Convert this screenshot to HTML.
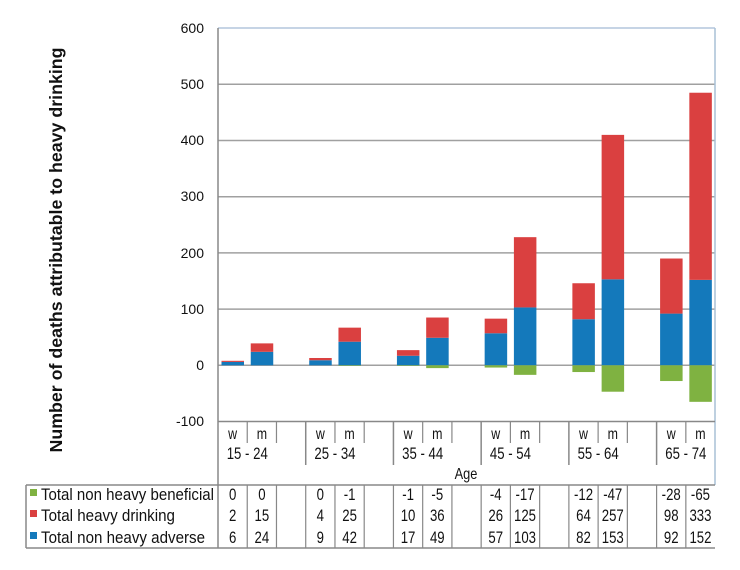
<!DOCTYPE html>
<html><head><meta charset="utf-8"><style>
body{margin:0;background:#fff;width:740px;height:570px;overflow:hidden}
svg{display:block}
text{font-family:"Liberation Sans",sans-serif;fill:#111}
</style></head><body>
<svg width="740" height="570" viewBox="0 0 740 570" xmlns="http://www.w3.org/2000/svg">
<g stroke="#a0a0a0" stroke-width="1.5">
<line x1="218" y1="84.3" x2="715" y2="84.3"/>
<line x1="218" y1="140.5" x2="715" y2="140.5"/>
<line x1="218" y1="196.7" x2="715" y2="196.7"/>
<line x1="218" y1="252.9" x2="715" y2="252.9"/>
<line x1="218" y1="309.1" x2="715" y2="309.1"/>
<line x1="218" y1="365.3" x2="715" y2="365.3"/>
</g>
<line x1="218" y1="28" x2="715" y2="28" stroke="#8eaacb" stroke-width="1"/>
<line x1="715" y1="28" x2="715" y2="485" stroke="#a9c0d6" stroke-width="1.5"/>
<line x1="218" y1="28" x2="218" y2="548" stroke="#888" stroke-width="1.5"/>
<line x1="218" y1="421.5" x2="715" y2="421.5" stroke="#888" stroke-width="1.5"/>
<g font-size="14" text-anchor="end">
<text x="204" y="33">600</text><text x="204" y="89">500</text><text x="204" y="145">400</text>
<text x="204" y="201">300</text><text x="204" y="258">200</text><text x="204" y="314">100</text>
<text x="204" y="370">0</text><text x="204" y="426">-100</text>
</g>
<text transform="translate(62,250) rotate(-90)" text-anchor="middle" font-size="17.5" font-weight="bold" textLength="405" lengthAdjust="spacingAndGlyphs">Number of deaths attributable to heavy drinking</text>
<g id="bars"></g>
<g id="tbl"></g>
<line x1="26" y1="485" x2="715" y2="485" stroke="#888" stroke-width="1.5"/>
<line x1="26" y1="548" x2="715" y2="548" stroke="#888" stroke-width="1.5"/>
<line x1="26" y1="485" x2="26" y2="548" stroke="#888" stroke-width="1.5"/>
<rect x="30" y="489" width="7" height="7" fill="#7fb241"/>
<rect x="30" y="510" width="7" height="7" fill="#da4040"/>
<rect x="30" y="532" width="7" height="7" fill="#1479bb"/>
<g font-size="16.5">
<text x="41" y="500" textLength="173" lengthAdjust="spacingAndGlyphs">Total non heavy beneficial</text>
<text x="41" y="521" textLength="134" lengthAdjust="spacingAndGlyphs">Total heavy drinking</text>
<text x="41" y="543" textLength="164" lengthAdjust="spacingAndGlyphs">Total non heavy adverse</text></g>
</svg>
<script>
var ns="http://www.w3.org/2000/svg";
function el(p,t,a,txt){var e=document.createElementNS(ns,t);for(var k in a)e.setAttribute(k,a[k]);if(txt!==undefined)e.textContent=txt;p.appendChild(e);return e;}
function nt(x,y,fs,txt){return el(T,"text",{x:0,y:0,"font-size":fs,"text-anchor":"middle",transform:"translate("+x+","+y+") scale(0.8,1)"},txt);}
var B=document.getElementById("bars"),T=document.getElementById("tbl");
var x0=218,cw=29.24,z=365.3,s=0.562;
var g=[0,0,0,-1,-1,-5,-4,-17,-12,-47,-28,-65];
var r=[2,15,4,25,10,36,26,125,64,257,98,333];
var b=[6,24,9,42,17,49,57,103,82,153,92,152];
var ages=["15 - 24","25 - 34","35 - 44","45 - 54","55 - 64","65 - 74"];
for(var i=0;i<12;i++){
 var gi=Math.floor(i/2),col=gi*3+(i%2),cx=x0+col*cw;
 var bx=cx+3.5,bw=22.5;
 el(B,"rect",{x:bx,y:z-b[i]*s,width:bw,height:b[i]*s,fill:"#1479bb"});
 el(B,"rect",{x:bx,y:z-(b[i]+r[i])*s,width:bw,height:r[i]*s,fill:"#da4040"});
 if(g[i]<0)el(B,"rect",{x:bx,y:z,width:bw,height:-g[i]*s,fill:"#7fb241"});
 var mx=cx+cw/2;
 nt(mx,439,15.5,i%2?"m":"w");
 nt(mx,500,16.5,String(g[i]));
 nt(mx,521,16.5,String(r[i]));
 nt(mx,543,16.5,String(b[i]));
}
for(var k=0;k<6;k++){
 var gx=x0+k*3*cw;
 nt(gx+cw,459,16.5,ages[k]);
 if(k>0)el(T,"line",{x1:gx,y1:421,x2:gx,y2:465,stroke:"#888","stroke-width":1.5});
 el(T,"line",{x1:gx+cw,y1:421,x2:gx+cw,y2:443,stroke:"#888","stroke-width":1.2});
 if(k<5)el(T,"line",{x1:gx+2*cw,y1:421,x2:gx+2*cw,y2:443,stroke:"#888","stroke-width":1.2});
}
nt(466,479,16,"Age");
for(var c=1;c<17;c++){var xx=x0+c*cw;el(T,"line",{x1:xx,y1:485,x2:xx,y2:548,stroke:"#888","stroke-width":1.2});}
</script>
</body></html>
